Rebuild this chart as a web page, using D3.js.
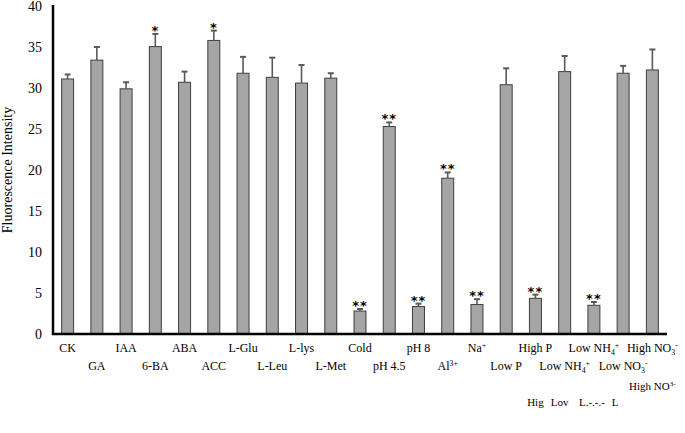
<!DOCTYPE html>
<html>
<head>
<meta charset="utf-8">
<script src="https://cdn.jsdelivr.net/npm/d3@7"></script>
<style>
  html, body { margin: 0; padding: 0; background: #fff; }
  svg { display: block; }
  text { font-family: "Liberation Serif", "Times New Roman", serif; fill: #000; }
</style>
</head>
<body>
<svg id="chart" width="685" height="433"></svg>
<script>
// ---- data ----
const categories = ["CK","GA","IAA","6-BA","ABA","ACC","L-Glu","L-Leu","L-lys","L-Met",
  "Cold","pH 4.5","pH 8","Al^{3+}","Na^{+}","Low P","High P",
  "Low NH_{4}^{+}","Low NH_{4}^{+}","Low NO_{3}^{-}","High NO_{3}^{-}"];
const values = [31.1, 33.4, 29.9, 35.05, 30.7, 35.8, 31.8, 31.3, 30.6, 31.2,
  2.8, 25.3, 3.35, 19.0, 3.6, 30.4, 4.35, 32.0, 3.5, 31.8, 32.2];
const errors = [0.55, 1.6, 0.8, 1.55, 1.3, 1.2, 2.0, 2.4, 2.2, 0.6,
  0.25, 0.5, 0.35, 0.7, 0.65, 2.0, 0.45, 1.9, 0.4, 0.9, 2.5];
const significance = ["","","","*","","*","","","","",
  "**","**","**","**","**","","**","","**","",""];
const yTicks = [0, 5, 10, 15, 20, 25, 30, 35, 40];
const yTitle = "Fluorescence Intensity";
// clipped overlapping label fragments seen under the last categories
const extraLabels = [
  {index: 16, text: "Hig"},
  {index: 17, text: "Lov"},
  {index: 18, text: "L.-.-.-"},
  {index: 19, text: "L"},
  {index: 20, text: "High NO^{3-}"}
];

// ---- layout ----
const svg = d3.select("#chart");
const plot = {left: 53, right: 667, top: 6, bottom: 334};

const x = d3.scaleBand().domain(d3.range(categories.length))
  .range([plot.left, plot.right]).paddingInner(0.59).paddingOuter(0.295);
const y = d3.scaleLinear().domain([0, 40]).range([plot.bottom, plot.top]);

function addRich(textSel, str, size) {
  if (!/[_^]\{/.test(str)) { textSel.text(str); return; }
  const re = /(_\{[^}]*\}|\^\{[^}]*\})/g;
  const parts = str.split(re).filter(s => s.length);
  let shift = 0;
  parts.forEach(p => {
    let kind = "n", t = p;
    if (p.startsWith("_{")) { kind = "sub"; t = p.slice(2, -1); }
    else if (p.startsWith("^{")) { kind = "sup"; t = p.slice(2, -1); }
    const target = kind === "sub" ? size * 0.25 : kind === "sup" ? -size * 0.35 : 0;
    textSel.append("tspan").text(t)
      .attr("dy", (target - shift).toFixed(2))
      .style("font-size", (kind === "n" ? size : size * 0.65) + "px");
    shift = target;
  });
}

// y axis tick labels
const yAxis = d3.axisLeft(y).tickValues(yTicks).tickSize(0).tickPadding(11);
const gy = svg.append("g").attr("transform", `translate(${plot.left},0)`).call(yAxis);
gy.select(".domain").remove();
gy.selectAll("text").style("font-family", '"Liberation Serif", serif')
  .style("font-size", "14px").attr("fill", "#000");

// bars
svg.append("g").selectAll("rect").data(values).join("rect")
  .attr("x", (d, i) => x(i))
  .attr("y", d => y(d))
  .attr("width", x.bandwidth())
  .attr("height", d => y(0) - y(d))
  .attr("fill", "#a5a5a5")
  .attr("stroke", "#3f3f3f")
  .attr("stroke-width", 1);

// error bars (upper only)
const eg = svg.append("g").attr("stroke", "#595959").attr("stroke-width", 1.6);
values.forEach((v, i) => {
  const cx = x(i) + x.bandwidth() / 2;
  eg.append("line").attr("x1", cx).attr("x2", cx).attr("y1", y(v)).attr("y2", y(v + errors[i]));
  eg.append("line").attr("x1", cx - 3).attr("x2", cx + 3)
    .attr("y1", y(v + errors[i])).attr("y2", y(v + errors[i])).attr("stroke-width", 2);
});

// significance marks
svg.append("g").selectAll("text").data(significance).join("text")
  .attr("x", (d, i) => x(i) + x.bandwidth() / 2)
  .attr("y", (d, i) => y(values[i] + errors[i]) + 1)
  .attr("text-anchor", "middle")
  .style("font-family", '"DejaVu Sans", sans-serif')
  .style("font-weight", "bold")
  .style("font-size", "13px")
  .style("letter-spacing", "1px")
  .text(d => d);

// axes lines
svg.append("line").attr("x1", plot.left).attr("x2", plot.left)
  .attr("y1", plot.top - 1).attr("y2", plot.bottom + 1)
  .attr("stroke", "#000").attr("stroke-width", 2.5);
svg.append("line").attr("x1", plot.left - 1).attr("x2", plot.right)
  .attr("y1", plot.bottom).attr("y2", plot.bottom)
  .attr("stroke", "#000").attr("stroke-width", 2.5);

// x category labels: staggered in two rows so the horizontal texts don't collide
const labelSize = 12;
const lg = svg.append("g");
function placeLabel(ax, ay, str, size) {
  const t = lg.append("text").attr("text-anchor", "middle")
    .attr("x", ax.toFixed(2)).attr("y", ay.toFixed(2))
    .style("font-size", size + "px");
  addRich(t, str, size);
}
categories.forEach((c, i) => {
  placeLabel(x(i) + x.bandwidth() / 2, plot.bottom + (i % 2 === 0 ? 18 : 36), c, labelSize);
});

// extra fragments (lower rows)
const extraOffsets = [[0, 72], [-5, 72], [-2, 72], [-8, 72], [0, 56]];
extraLabels.forEach((e, k) => {
  placeLabel(x(e.index) + x.bandwidth() / 2 + extraOffsets[k][0],
    plot.bottom + extraOffsets[k][1], e.text, labelSize - 1);
});

// y title
svg.append("text").attr("transform", "translate(12,170) rotate(-90)")
  .attr("text-anchor", "middle").style("font-size", "14px").text(yTitle);
</script>
</body>
</html>
